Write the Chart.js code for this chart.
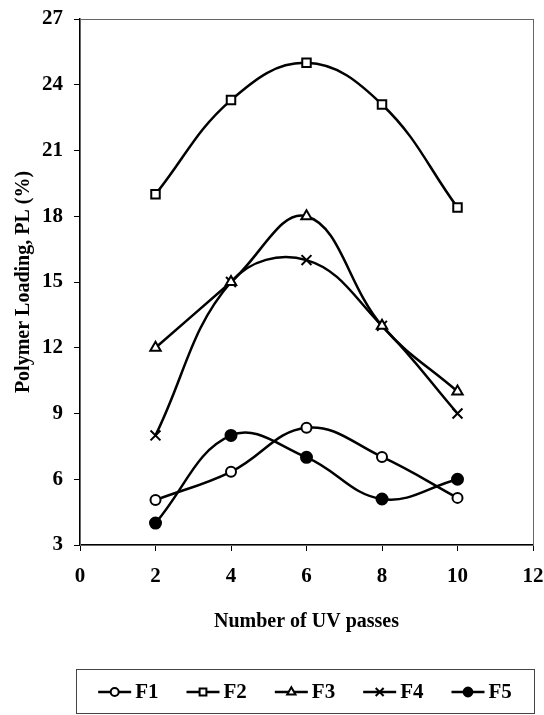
<html>
<head>
<title>Polymer Loading</title>
<script src="https://cdn.jsdelivr.net/npm/chart.js@4/dist/chart.umd.min.js"></script>
<style>
  body { margin: 0; background: #fff; }
  #wrap { width: 544px; height: 715px; position: relative; }
</style>
</head>
<body>
<div id="wrap"><canvas id="myChart"></canvas></div>

<script type="text/javascript">
// UV passes (x) and polymer loading (%) per formulation
var passes = [2, 4, 6, 8, 10];
var f1 = [5.05, 6.34, 8.35, 7.02, 5.15];
var f2 = [19.0, 23.3, 25.0, 23.1, 18.4];
var f3 = [12.0, 15.0, 18.0, 13.0, 10.0];
var f4 = [8.0, 15.0, 16.0, 13.0, 9.0];
var f5 = [4.0, 8.0, 7.0, 5.1, 6.0];
var xTicks = [0, 2, 4, 6, 8, 10, 12];
var yTicks = [3, 6, 9, 12, 15, 18, 21, 24, 27];

var serif = "'Liberation Serif', 'Times New Roman', serif";

function pts(vals) {
    return passes.map(function (p, i) { return {x: p, y: vals[i]}; });
}

function series(label, vals, style, fill, r) {
    return {
        label: label,
        data: pts(vals),
        borderColor: '#000',
        borderWidth: 2.5,
        tension: 0.4,
        pointStyle: style,
        pointRadius: r,
        pointBackgroundColor: fill,
        pointBorderColor: '#000',
        pointBorderWidth: 2
    };
}

// plot frame (Excel style box round the plot area)
var framePlugin = {
    id: 'frame',
    beforeDatasetsDraw: function (chart) {
        var a = chart.chartArea, ctx = chart.ctx;
        ctx.save();
        ctx.strokeStyle = '#666';
        ctx.lineWidth = 1;
        ctx.strokeRect(a.left + 0.5, a.top + 0.5, a.right - a.left, a.bottom - a.top);
        ctx.restore();
    }
};

// boxed legend at the bottom, line through each marker
var legendPlugin = {
    id: 'boxLegend',
    afterDraw: function (chart) {
        var ctx = chart.ctx;
        var box = {l: 76, r: 534, t: 669, b: 713};
        ctx.save();
        ctx.strokeStyle = '#444';
        ctx.lineWidth = 1;
        ctx.strokeRect(box.l + 0.5, box.t + 0.5, box.r - box.l, box.b - box.t);
        ctx.font = 'bold 21px ' + serif;
        ctx.textBaseline = 'middle';
        var lineW = 33, gapT = 4, gap = 28;
        var sets = chart.data.datasets;
        var total = 0;
        sets.forEach(function (d, i) {
            total += lineW + gapT + ctx.measureText(d.label).width + (i < sets.length - 1 ? gap : 0);
        });
        var x = (box.l + box.r) / 2 - total / 2;
        var y = (box.t + box.b) / 2 + 1;
        sets.forEach(function (d) {
            ctx.strokeStyle = '#000';
            ctx.lineWidth = 2.5;
            ctx.beginPath();
            ctx.moveTo(x, y);
            ctx.lineTo(x + lineW, y);
            ctx.stroke();
            ctx.fillStyle = d.pointBackgroundColor;
            ctx.strokeStyle = '#000';
            ctx.lineWidth = 2;
            Chart.helpers.drawPoint(ctx, {pointStyle: d.pointStyle, radius: d.pointRadius * 0.8, borderWidth: 2}, x + lineW / 2, y);
            ctx.fillStyle = '#000';
            ctx.fillText(d.label, x + lineW + gapT, y + 1);
            x += lineW + gapT + ctx.measureText(d.label).width + gap;
        });
        ctx.restore();
    }
};

var config = {
    type: 'line',
    data: {
        datasets: [
            series('F1', f1, 'circle', '#fff', 5),
            series('F2', f2, 'rect', '#fff', 6),
            series('F3', f3, 'triangle', '#fff', 6),
            series('F4', f4, 'crossRot', '#fff', 7),
            series('F5', f5, 'circle', '#000', 5.5)
        ]
    },
    options: {
        responsive: true,
        maintainAspectRatio: false,
        animation: false,
        layout: {padding: {left: 0, top: 19, right: 11, bottom: 0}},
        plugins: {legend: {display: false}, tooltip: {enabled: false}},
        scales: {
            x: {
                type: 'linear',
                min: 0, max: 12,
                afterBuildTicks: function (s) { s.ticks = xTicks.map(function (v) { return {value: v}; }); },
                afterFit: function (s) { s.height = 170; s.paddingRight = 0; s.paddingLeft = 0; },
                grid: {drawOnChartArea: false, drawTicks: true, tickLength: 6, color: '#000'},
                border: {color: '#000', width: 1.5},
                ticks: {color: '#000', padding: 13, font: {family: serif, size: 21, weight: 'bold'}},
                title: {display: true, text: 'Number of UV passes', color: '#000',
                        font: {family: serif, size: 20, weight: 'bold'}, padding: {top: 0, bottom: 81}}
            },
            y: {
                min: 3, max: 27,
                afterBuildTicks: function (s) { s.ticks = yTicks.map(function (v) { return {value: v}; }); },
                afterFit: function (s) { s.width = 80; s.paddingTop = 0; s.paddingBottom = 0; },
                grid: {drawOnChartArea: false, drawTicks: true, tickLength: 6, color: '#000'},
                border: {color: '#000', width: 1.5},
                ticks: {color: '#000', padding: 11, font: {family: serif, size: 21, weight: 'bold'}},
                title: {display: true, text: 'Polymer Loading, PL (%)', color: '#000',
                        font: {family: serif, size: 20, weight: 'bold'}, padding: {top: 12, bottom: 0}}
            }
        }
    },
    plugins: [framePlugin, legendPlugin]
};

var chart = new Chart(document.getElementById('myChart'), config);
</script>
</body>
</html>
